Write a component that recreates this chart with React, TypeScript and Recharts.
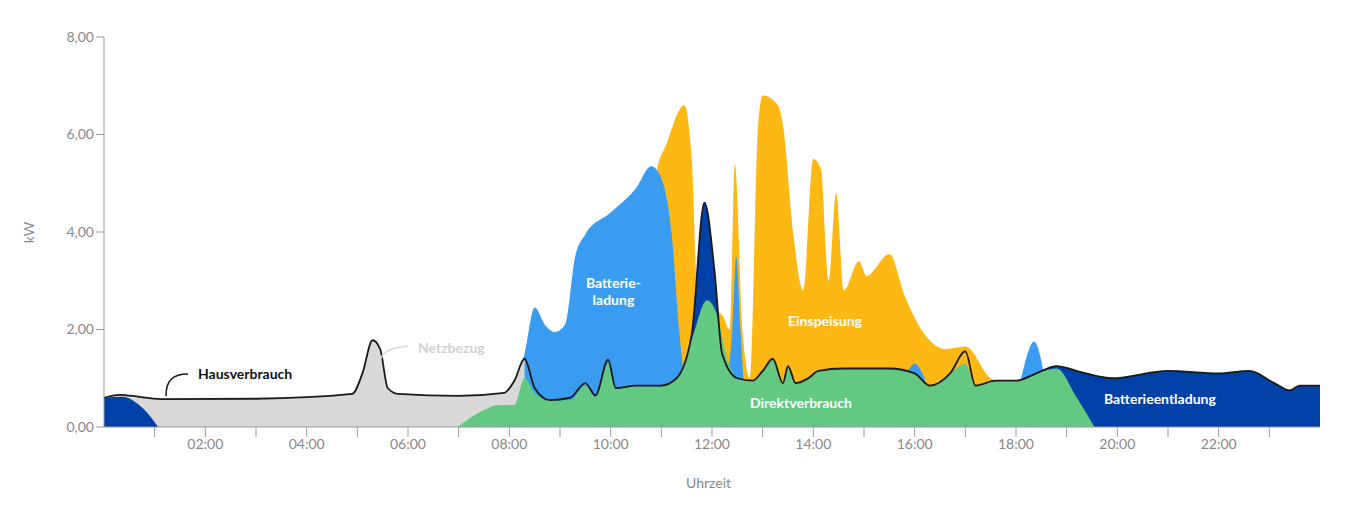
import React from 'react'
import { ComposedChart, Area, Line, XAxis, YAxis } from 'recharts'

// Stunden (0-24) und kW
const hausverbrauch: [number, number][] = [
  [0, 0.6], [0.3, 0.66], [0.7, 0.62], [1.2, 0.57], [3, 0.58], [4.9, 0.68], [5.1, 1.1], [5.3, 1.78], [5.45, 1.6],
  [5.6, 0.8], [5.8, 0.68], [7, 0.64], [7.9, 0.7], [8.1, 0.95], [8.3, 1.4], [8.5, 0.8], [8.8, 0.55],
  [9.2, 0.6], [9.5, 0.9], [9.7, 0.65], [9.95, 1.38], [10.1, 0.8], [10.5, 0.85], [11, 0.85], [11.3, 1.0],
  [11.6, 1.9], [11.85, 4.6], [12.05, 3.2], [12.2, 1.5], [12.5, 1.0], [12.8, 0.95], [13.0, 1.15], [13.2, 1.4],
  [13.4, 0.9], [13.5, 1.25], [13.65, 0.9], [13.9, 1.0], [14.1, 1.15], [14.6, 1.2], [15.5, 1.2], [16.0, 1.1],
  [16.3, 0.85], [16.7, 1.1], [17.0, 1.55], [17.2, 0.85], [17.6, 0.95], [18.0, 0.95], [18.4, 1.1], [18.8, 1.25],
  [19.3, 1.12], [19.9, 1.0], [21, 1.15], [22, 1.1], [22.6, 1.15], [23.1, 0.9], [23.4, 0.75], [23.6, 0.85], [24, 0.85],
]

const einspeisung: [number, number][] = [
  [10.8, 0.9], [10.9, 5.2], [11.1, 5.8], [11.45, 6.6], [11.6, 5.5], [11.72, 2.6], [11.85, 2.5], [12.2, 2.3],
  [12.35, 2.0], [12.45, 5.4], [12.6, 2.0], [12.75, 1.0], [12.9, 6.0], [13.0, 6.8], [13.3, 6.6], [13.4, 6.2],
  [13.6, 4.0], [13.8, 2.8], [14.0, 5.5], [14.15, 5.3], [14.3, 3.0], [14.45, 4.8], [14.6, 2.8], [14.9, 3.4],
  [15.05, 3.1], [15.5, 3.55], [15.8, 2.7], [16.2, 1.9], [16.6, 1.6], [17.0, 1.65], [17.5, 1.0], [17.8, 0.9],
]

const batterieladung: [number, number][] = [
  [8.0, 0.5], [8.3, 1.5], [8.5, 2.45], [8.7, 2.1], [8.9, 1.95], [9.1, 2.1], [9.3, 3.5], [9.5, 3.95],
  [10.0, 4.4], [10.5, 4.9], [10.8, 5.35], [11.0, 5.1], [11.2, 4.0], [11.35, 2.0], [11.45, 1.0],
]
const ladungMittag: [number, number][] = [
  [12.3, 0.9], [12.4, 2.0], [12.48, 3.5], [12.56, 2.0], [12.62, 1.0],
]
const ladungAbend1: [number, number][] = [[15.8, 1.0], [16.0, 1.3], [16.2, 1.0]]
const ladungAbend2: [number, number][] = [[18.1, 1.0], [18.36, 1.75], [18.55, 1.1]]

const entladungNacht: [number, number][] = [[0, 0.6], [0.35, 0.62], [0.75, 0.4], [1.07, 0]]
const entladungMittag: [number, number][] = [[11.5, 1.2], [11.6, 1.9], [11.85, 4.6], [12.05, 3.2], [12.2, 1.5], [12.3, 1.2]]
const entladungAbend: [number, number][] = [
  [17.7, 0.95], [18.0, 0.95], [18.4, 1.1], [18.8, 1.25], [19.3, 1.12], [19.9, 1.0], [21, 1.15], [22, 1.1],
  [22.6, 1.15], [23.1, 0.9], [23.4, 0.75], [23.6, 0.85], [24, 0.85],
]

const netzbezug: [number, number][] = hausverbrauch.filter(([h]) => h <= 8.3)

const direktverbrauch: [number, number][] = [
  [6.97, 0], [7.5, 0.35], [7.8, 0.45], [8.1, 0.45], [8.3, 1.0], [8.5, 0.7], [8.8, 0.55], [9.2, 0.55],
  [9.5, 0.85], [9.7, 0.62], [9.95, 1.3], [10.1, 0.78], [10.5, 0.83], [11, 0.83], [11.3, 1.0], [11.6, 1.8],
  [11.9, 2.6], [12.1, 2.3], [12.3, 1.4], [12.5, 1.0], [12.8, 0.95], [13.0, 1.15], [13.2, 1.4], [13.4, 0.9],
  [13.5, 1.25], [13.65, 0.9], [13.9, 1.0], [14.1, 1.15], [14.6, 1.2], [15.5, 1.2], [16.0, 1.1], [16.3, 0.85],
  [16.7, 1.1], [17.0, 1.3], [17.2, 0.85], [17.6, 0.95], [18.0, 0.95], [18.4, 1.1], [18.8, 1.2], [19.2, 0.6],
  [19.55, 0],
]

const yTicks = [0, 2, 4, 6, 8]
const xTicks = Array.from({ length: 23 }, (_, i) => i + 1)

const pts = (a: [number, number][]) => a.map(([h, kw]) => ({ h, kw }))

const fmtY = (v: number) => v.toFixed(2).replace('.', ',')
const fmtX = (v: number) => (v % 2 === 0 ? `${String(v).padStart(2, '0')}:00` : '')

const font = 'Lato, "Open Sans", sans-serif'
const lbl = (color: string): React.CSSProperties => ({
  position: 'absolute', color, fontFamily: font, fontWeight: 700, fontSize: 14, lineHeight: '17px', textAlign: 'center',
})

export default function App() {
  const areas: [[number, number][], string][] = [
    [einspeisung, '#fdb813'],
    [batterieladung, '#3a9cf0'],
    [ladungMittag, '#3a9cf0'],
    [ladungAbend1, '#3a9cf0'],
    [ladungAbend2, '#3a9cf0'],
    [netzbezug, '#d9d9d9'],
    [entladungNacht, '#0041a8'],
    [entladungMittag, '#0041a8'],
    [entladungAbend, '#0041a8'],
    [direktverbrauch, '#63c882'],
  ]
  return (
    <div style={{ position: 'relative', width: 1332, height: 498 }}>
      <ComposedChart width={1332} height={498} margin={{ top: 29, right: 20, left: 36, bottom: 49 }}>
        <XAxis type="number" dataKey="h" domain={[0, 24]} ticks={xTicks} tickFormatter={fmtX} interval={0}
          stroke="#999" tickSize={10} tick={{ fill: '#888', fontSize: 14, fontFamily: font }} allowDuplicatedCategory={false} />
        <YAxis type="number" dataKey="kw" domain={[0, 8]} ticks={yTicks} tickFormatter={fmtY} width={60}
          stroke="#999" tickSize={8} tick={{ fill: '#888', fontSize: 14, fontFamily: font }} />
        {areas.map(([d, c], i) => (
          <Area key={i} data={pts(d)} dataKey="kw" type="monotone" fill={c} fillOpacity={1} stroke="none"
            isAnimationActive={false} />
        ))}
        <Line data={pts(hausverbrauch)} dataKey="kw" type="monotone" stroke="#1a1a1a" strokeWidth={1.8} dot={false}
          isAnimationActive={false} />
      </ComposedChart>
      <svg style={{ position: 'absolute', left: 0, top: 0 }} width={1332} height={498}>
        <path d="M 158 388 C 158 372, 165 366, 180 366" stroke="#1a1a1a" strokeWidth={1.5} fill="none" />
        <path d="M 372 352 C 376 342, 384 340, 400 338" stroke="#d9d9d9" strokeWidth={1.5} fill="none" />
      </svg>
      <div style={{ ...lbl('#111'), left: 190, top: 357 }}>Hausverbrauch</div>
      <div style={{ ...lbl('#d0d0d0'), left: 410, top: 331 }}>Netzbezug</div>
      <div style={{ ...lbl('#fff'), left: 578, top: 266 }}>Batterie-<br />ladung</div>
      <div style={{ ...lbl('#fff'), left: 780, top: 304 }}>Einspeisung</div>
      <div style={{ ...lbl('#fff'), left: 742, top: 386 }}>Direktverbrauch</div>
      <div style={{ ...lbl('#fff'), left: 1096, top: 382 }}>Batterieentladung</div>
      <div style={{ position: 'absolute', left: 678, top: 466, color: '#888', fontFamily: font, fontSize: 14 }}>Uhrzeit</div>
      <div style={{ position: 'absolute', left: 10, top: 216, color: '#888', fontFamily: font, fontSize: 14, transform: 'rotate(-90deg)' }}>kW</div>
    </div>
  )
}
